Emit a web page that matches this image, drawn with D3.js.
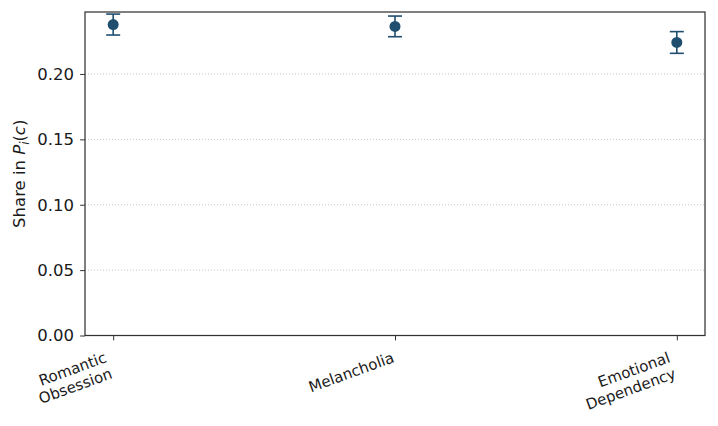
<!DOCTYPE html>
<html>
<head>
<meta charset="utf-8">
<script src="https://cdn.jsdelivr.net/npm/d3@7"></script>
<style>
body { margin: 0; background: #fff; }
text { font-family: "DejaVu Sans", sans-serif; fill: #1a1a1a; }
</style>
</head>
<body>
<div id="chart"></div>
<script>
// categories (line breaks as in the picture)
var categories = [["Romantic", "Obsession"], ["Melancholia"], ["Emotional", "Dependency"]];
// mean share and error half-width per category
var means = [0.2378, 0.2364, 0.2241];
var errors = [0.0080, 0.0079, 0.0083];
// y tick values
var yTicks = [0.00, 0.05, 0.10, 0.15, 0.20];

var margin = { top: 12, right: 13, bottom: 90.5, left: 85 };
var size = {
	width: 718,
	height: 426
};
size.inner_width = size.width - margin.left - margin.right;
size.inner_height = size.height - margin.top - margin.bottom;

var pointColor = "#1f4e6f";
var spineColor = "#333333";

// scales
var xScale = d3.scaleLinear()
	.domain([-0.1, 2.1])
	.range([0, size.inner_width]);

var yScale = d3.scaleLinear()
	.domain([0, 0.2474])
	.range([size.inner_height, 0]);

var svg = d3.select("#chart").append("svg")
	.attr("width", size.width)
	.attr("height", size.height);

var g = svg.append("g")
	.attr("transform", "translate(" + margin.left + "," + margin.top + ")");

// dotted grid lines
g.append("g")
	.selectAll("line")
	.data(yTicks.slice(1))
	.enter()
	.append("line")
	.attr("x1", 0)
	.attr("x2", size.inner_width)
	.attr("y1", function(d) { return yScale(d); })
	.attr("y2", function(d) { return yScale(d); })
	.attr("stroke", "#b8b8b8")
	.attr("stroke-width", 0.8)
	.attr("stroke-dasharray", "1,2");

// y axis
var y_axis = d3.axisLeft(yScale)
	.tickValues(yTicks)
	.tickFormat(d3.format(".2f"))
	.tickSize(4.9)
	.tickPadding(6);

var yg = g.append("g").call(y_axis);
yg.select(".domain").remove();
yg.selectAll("line").attr("stroke", spineColor).attr("stroke-width", 1);
yg.selectAll("text")
	.style("font-size", "16.5px")
	.style("font-family", "DejaVu Sans")
	.attr("fill", "#1a1a1a");

// x axis ticks
var x_axis = d3.axisBottom(xScale)
	.tickValues([0, 1, 2])
	.tickSize(4.9)
	.tickFormat("");

var xg = g.append("g")
	.attr("transform", "translate(0," + size.inner_height + ")")
	.call(x_axis);
xg.select(".domain").remove();
xg.selectAll("line").attr("stroke", spineColor).attr("stroke-width", 1);

// rotated category labels
var sin20 = Math.sin(20 * Math.PI / 180);
var lineH = 17;
categories.forEach(function(lines, i) {
	var gx = xScale(i) - 4 - (lines.length - 1) * lineH * sin20;
	var label = g.append("text")
		.attr("transform", "translate(" + gx + "," + (size.inner_height + 15) + ") rotate(-20)")
		.attr("text-anchor", "end")
		.style("font-size", "15px");
	lines.forEach(function(line, k) {
		label.append("tspan")
			.attr("x", 0)
			.attr("y", 12 + k * lineH)
			.text(line);
	});
});

// frame
g.append("rect")
	.attr("width", size.inner_width)
	.attr("height", size.inner_height)
	.attr("fill", "none")
	.attr("stroke", spineColor)
	.attr("stroke-width", 1.25);

// error bars
var bars = g.append("g")
	.selectAll("g")
	.data(means)
	.enter()
	.append("g");

bars.append("line")
	.attr("x1", function(d, i) { return xScale(i); })
	.attr("x2", function(d, i) { return xScale(i); })
	.attr("y1", function(d, i) { return yScale(d + errors[i]); })
	.attr("y2", function(d, i) { return yScale(d - errors[i]); })
	.attr("stroke", pointColor)
	.attr("stroke-width", 1.6);

[1, -1].forEach(function(sign) {
	bars.append("line")
		.attr("x1", function(d, i) { return xScale(i) - 7; })
		.attr("x2", function(d, i) { return xScale(i) + 7; })
		.attr("y1", function(d, i) { return yScale(d + sign * errors[i]); })
		.attr("y2", function(d, i) { return yScale(d + sign * errors[i]); })
		.attr("stroke", pointColor)
		.attr("stroke-width", 1.6);
});

bars.append("circle")
	.attr("cx", function(d, i) { return xScale(i); })
	.attr("cy", function(d) { return yScale(d); })
	.attr("r", 5.5)
	.attr("fill", pointColor);

// y axis label with math italics
var ylab = svg.append("text")
	.attr("transform", "translate(25," + (margin.top + size.inner_height / 2) + ") rotate(-90)")
	.attr("text-anchor", "middle")
	.style("font-size", "16.5px");
ylab.append("tspan").text("Share in ");
ylab.append("tspan").style("font-style", "italic").text("P");
ylab.append("tspan").style("font-style", "italic").style("font-size", "11.5px").attr("dy", 3.5).text("i");
ylab.append("tspan").attr("dy", -3.5).text("(");
ylab.append("tspan").style("font-style", "italic").text("c");
ylab.append("tspan").text(")");
</script>
</body>
</html>
